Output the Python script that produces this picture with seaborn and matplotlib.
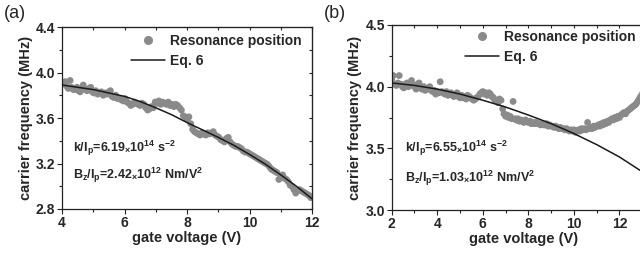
import matplotlib
matplotlib.use("Agg")
import matplotlib.pyplot as plt
from matplotlib.lines import Line2D
import seaborn as sns
import pandas as pd

# ---- panel (a) data ----
va = [4.05, 4.10, 4.15, 4.20, 4.26, 4.30, 4.36, 4.42, 4.48, 4.53, 4.58, 4.63, 4.68, 4.74, 4.80,
      4.86, 4.92, 4.97, 5.02, 5.08, 5.14, 5.20, 5.26, 5.32, 5.38, 5.44, 5.50, 5.55, 5.60, 5.66,
      5.72, 5.78, 5.84, 5.90, 5.96, 6.02, 6.08, 6.14, 6.20, 6.26, 6.32, 6.38, 6.44, 6.50, 6.56,
      6.62, 6.68, 6.74, 6.80, 6.86, 6.92, 6.98, 7.04, 7.10, 7.16, 7.22, 7.28, 7.34, 7.40, 7.46,
      7.52, 7.58, 7.64, 7.70, 7.76, 7.82, 7.88, 7.94, 8.00, 8.06, 8.12, 8.18, 8.24, 8.30, 8.36,
      8.42, 8.48, 8.54, 8.60, 8.66, 8.72, 8.78, 8.84, 8.90, 8.96, 9.02, 9.08, 9.14, 9.20, 9.26,
      9.32, 9.38, 9.44, 9.50, 9.56, 9.62, 9.68, 9.74, 9.80, 9.86, 9.92, 9.98, 10.04, 10.10, 10.16,
      10.22, 10.28, 10.34, 10.40, 10.46, 10.52, 10.58, 10.64, 10.70, 10.76, 10.82, 10.88, 10.94,
      11.00, 11.06, 11.12, 11.18, 11.24, 11.30, 11.36, 11.42, 11.48, 11.54, 11.60, 11.66, 11.72,
      11.78, 11.84, 11.90, 11.96]
fa = [3.90, 3.92, 3.88, 3.86, 3.93, 3.87, 3.85, 3.85, 3.87, 3.84, 3.83, 3.86, 3.89, 3.85, 3.84,
      3.86, 3.87, 3.83, 3.82, 3.84, 3.81, 3.82, 3.83, 3.80, 3.82, 3.81, 3.83, 3.84, 3.79, 3.78,
      3.80, 3.77, 3.77, 3.76, 3.75, 3.77, 3.74, 3.73, 3.71, 3.72, 3.74, 3.73, 3.72, 3.71, 3.73,
      3.72, 3.69, 3.67, 3.68, 3.70, 3.69, 3.74, 3.73, 3.75, 3.72, 3.74, 3.73, 3.72, 3.74, 3.71,
      3.72, 3.70, 3.72, 3.71, 3.69, 3.67, 3.62, 3.61, 3.59, 3.61, 3.55, 3.50, 3.48, 3.47, 3.46,
      3.45, 3.47, 3.46, 3.45, 3.47, 3.46, 3.47, 3.48, 3.45, 3.44, 3.43, 3.41, 3.40, 3.39, 3.42,
      3.43, 3.39, 3.37, 3.36, 3.35, 3.35, 3.34, 3.33, 3.31, 3.30, 3.30, 3.29, 3.28, 3.27, 3.26,
      3.25, 3.24, 3.23, 3.22, 3.21, 3.20, 3.19, 3.17, 3.15, 3.14, 3.13, 3.12, 3.06,
      3.08, 3.10, 3.07, 3.06, 3.04, 3.01, 3.00, 2.97, 2.94, 2.96, 2.97, 2.96, 2.95,
      2.94, 2.93, 2.92, 2.90]
fit_va = [4, 4.5, 5, 5.5, 6, 6.5, 7, 7.5, 8, 8.5, 9, 9.5, 10, 10.5, 11, 11.5, 12]
fit_fa = [3.89, 3.87, 3.85, 3.82, 3.79, 3.745, 3.69, 3.63, 3.56, 3.495, 3.43, 3.36, 3.28, 3.195,
          3.10, 3.00, 2.89]

# ---- panel (b) data ----
vb = [2.00, 2.07, 2.14, 2.20, 2.27, 2.33, 2.40, 2.47, 2.53, 2.60, 2.67, 2.73, 2.80, 2.87, 2.93,
      3.00, 3.07, 3.13, 3.20, 3.27, 3.33, 3.40, 3.47, 3.53, 3.60, 3.67, 3.73, 3.80, 3.87, 3.93,
      4.00, 4.07, 4.13, 4.20, 4.27, 4.33, 4.40, 4.47, 4.53, 4.60, 4.67, 4.73, 4.80, 4.87, 4.93,
      5.00, 5.07, 5.13, 5.20, 5.27, 5.33, 5.40, 5.47, 5.53, 5.60, 5.67, 5.73, 5.80, 5.87, 5.93,
      6.00, 6.07, 6.13, 6.20, 6.27, 6.33, 6.40, 6.47, 6.53, 6.60, 6.67, 6.73, 6.80, 6.87, 6.93,
      7.00, 7.07, 7.13, 7.20, 7.27, 7.33, 7.40, 7.47, 7.53, 7.60, 7.67, 7.73, 7.80, 7.87, 7.93,
      8.00, 8.07, 8.13, 8.20, 8.27, 8.33, 8.40, 8.47, 8.53, 8.60, 8.67, 8.73, 8.80, 8.87, 8.93,
      9.00, 9.07, 9.13, 9.20, 9.27, 9.33, 9.40, 9.47, 9.53, 9.60, 9.67, 9.73, 9.80, 9.87, 9.93,
      10.00, 10.07, 10.13, 10.20, 10.27, 10.33, 10.40, 10.47, 10.53, 10.60, 10.67, 10.73, 10.80,
      10.87, 10.93, 11.00, 11.07, 11.13, 11.20, 11.27, 11.33, 11.40, 11.47, 11.53, 11.60, 11.67,
      11.73, 11.80, 11.87, 11.93, 12.00, 12.07, 12.13, 12.20, 12.27, 12.33, 12.40, 12.47, 12.53,
      12.60, 12.67, 12.73, 12.80, 12.87, 12.93, 13.00]
fb = [4.06, 4.09, 4.02, 4.01, 4.03, 4.09, 4.02, 4.00, 3.99, 4.02, 4.03, 4.00, 4.03, 4.05, 4.01,
      4.00, 3.98, 4.02, 4.03, 3.99, 3.98, 4.00, 3.97, 3.98, 3.99, 4.00, 3.97, 3.96, 3.97, 3.94,
      3.96, 3.95, 4.04, 3.96, 3.95, 3.94, 3.96, 3.93, 3.94, 3.95, 3.93, 3.92, 3.94, 3.95, 3.92,
      3.91, 3.93, 3.91, 3.92, 3.90, 3.93, 3.92, 3.91, 3.90, 3.89, 3.90, 3.91, 3.92, 3.94, 3.95,
      3.96, 3.94, 3.95, 3.93, 3.95, 3.94, 3.92, 3.91, 3.89, 3.88, 3.87, 3.90, 3.89, 3.82, 3.78,
      3.76, 3.77, 3.75, 3.76, 3.74, 3.88, 3.74, 3.73, 3.74, 3.72, 3.73, 3.72, 3.71, 3.73, 3.72,
      3.71, 3.72, 3.70, 3.71, 3.70, 3.71, 3.70, 3.70, 3.69, 3.70, 3.69, 3.69, 3.70, 3.68, 3.69,
      3.68, 3.68, 3.67, 3.68, 3.67, 3.66, 3.67, 3.66, 3.66, 3.65, 3.66, 3.65, 3.64, 3.65, 3.64,
      3.65, 3.63, 3.64, 3.65, 3.64, 3.66, 3.65, 3.66, 3.65, 3.71, 3.66, 3.67, 3.66,
      3.68, 3.67, 3.68, 3.69, 3.68, 3.70, 3.69, 3.71, 3.70, 3.72, 3.71, 3.73, 3.74,
      3.73, 3.75, 3.74, 3.76, 3.75, 3.77, 3.78, 3.79, 3.78, 3.80, 3.81, 3.82, 3.83,
      3.84, 3.85, 3.86, 3.88, 3.90, 3.92, 3.94]
fit_vb = [2, 3, 4, 5, 6, 7, 8, 9, 10, 11, 12, 13, 14]
fit_fb = [4.03, 4.01, 3.98, 3.94, 3.89, 3.835, 3.77, 3.70, 3.62, 3.53, 3.43, 3.31, 3.18]

sns.set_style("ticks")
plt.rcParams["font.family"] = ["Liberation Sans", "DejaVu Sans"]
plt.rcParams["font.weight"] = "bold"
plt.rcParams["mathtext.fontset"] = "custom"
plt.rcParams["mathtext.rm"] = "Liberation Sans:bold"
plt.rcParams["mathtext.default"] = "rm"

dot_col = "#8a8a8a"
line_col = "#1a1a1a"

fig = plt.figure(figsize=(6.4, 2.57), dpi=100)
ax_a = fig.add_axes([62 / 640, 1 - 209 / 257, 250 / 640, 182 / 257])
# panel (b) runs past the right edge of the picture, as in the original crop
ax_b = fig.add_axes([391.7 / 640, 1 - 210 / 257, 264.2 / 640, 185 / 257])


def style(ax, xlim, ylim, xmaj, ymaj):
    ax.set_xlim(*xlim)
    ax.set_ylim(*ylim)
    ax.xaxis.set_major_locator(plt.MultipleLocator(xmaj))
    ax.xaxis.set_minor_locator(plt.MultipleLocator(xmaj / 2))
    ax.yaxis.set_major_locator(plt.MultipleLocator(ymaj))
    ax.yaxis.set_minor_locator(plt.MultipleLocator(ymaj / 2))
    for s in ax.spines.values():
        s.set_visible(True)
        s.set_linewidth(0.9)
        s.set_color("#222222")
    ax.tick_params(which="major", length=3.5, width=0.8, labelsize=10, pad=1.5, color="#222222")
    ax.tick_params(which="minor", length=2, width=0.8, color="#222222")
    for lab in ax.get_xticklabels() + ax.get_yticklabels():
        lab.set_fontweight("bold")
    top = ax.secondary_xaxis("top")
    top.xaxis.set_major_locator(plt.MultipleLocator(xmaj))
    top.xaxis.set_minor_locator(plt.MultipleLocator(xmaj / 2))
    top.tick_params(which="both", direction="in", labeltop=False, length=2.5, width=0.8)
    right = ax.secondary_yaxis("right")
    right.yaxis.set_major_locator(plt.MultipleLocator(ymaj))
    right.yaxis.set_minor_locator(plt.MultipleLocator(ymaj / 2))
    right.tick_params(which="both", direction="in", labelright=False, length=2.5, width=0.8)
    ax.set_xlabel("gate voltage (V)", fontsize=10.5, fontweight="bold", labelpad=1)
    ax.set_ylabel("carrier frequency (MHz)", fontsize=10.5, fontweight="bold", labelpad=2)


panels = [
    (ax_a, va, fa, fit_va, fit_fa, (4, 12), (2.8, 4.4), 2, 0.4,
     r"k/I$_p$=6.19$_{×}$10$^{14}$ s$^{-2}$", r"B$_z$/I$_p$=2.42$_{×}$10$^{12}$ Nm/V$^2$",
     (0.045, 0.335), (0.045, 0.185), "(a)", 15 / 640),
    (ax_b, vb, fb, fit_vb, fit_fb, (2, 13.6), (3.0, 4.5), 2, 0.5,
     r"k/I$_p$=6.55$_{×}$10$^{14}$ s$^{-2}$", r"B$_z$/I$_p$=1.03$_{×}$10$^{12}$ Nm/V$^2$",
     (0.05, 0.335), (0.05, 0.17), "(b)", 335 / 640),
]

for ax, x, y, fx, fy, xl, yl, xm, ym, t1, t2, p1, p2, tag, tx in panels:
    pts = pd.DataFrame({"v": x, "f": y})
    fit = pd.DataFrame({"v": fx, "f": fy})
    sns.scatterplot(data=pts, x="v", y="f", ax=ax, color=dot_col, s=24, edgecolor="none",
                    linewidth=0, zorder=2)
    sns.lineplot(data=fit, x="v", y="f", ax=ax, color=line_col, linewidth=1.1, zorder=3)
    style(ax, xl, yl, xm, ym)
    ax.text(*p1, t1, transform=ax.transAxes, fontsize=9, fontweight="bold", va="center")
    ax.text(*p2, t2, transform=ax.transAxes, fontsize=9, fontweight="bold", va="center")
    fig.text(tx, 1 - 13 / 257, tag, fontsize=13, fontweight="normal", ha="center", va="center")

handles = [
    Line2D([], [], marker="o", color=dot_col, linestyle="none", markersize=5.5),
    Line2D([], [], color=line_col, linewidth=1.1),
]
labels = ["Resonance position", "Eq. 6"]
ax_a.legend(handles, labels, loc="upper left", bbox_to_anchor=(0.227, 1.03), frameon=False,
            handlelength=2.4, handletextpad=0.4, labelspacing=0.4,
            prop={"weight": "bold", "size": 10})
ax_b.legend(handles, labels, loc="upper left", bbox_to_anchor=(0.232, 1.04), frameon=False,
            handlelength=2.4, handletextpad=0.4, labelspacing=0.4,
            prop={"weight": "bold", "size": 10})

fig.savefig("out.png", dpi=100)
